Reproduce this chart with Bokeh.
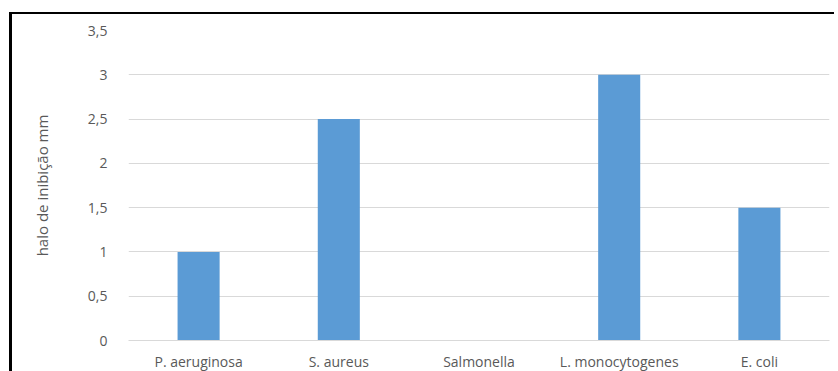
from bokeh.plotting import figure
from bokeh.models import FactorRange, Range1d, FixedTicker, CustomJSTickFormatter, ColumnDataSource
from bokeh.embed import file_html
from bokeh.resources import INLINE

categories = ["P. aeruginosa", "S. aureus", "Salmonella", "L. monocytogenes", "E. coli"]
values = [1, 2.5, 0, 3, 1.5]
y_ticks = [0, 0.5, 1, 1.5, 2, 2.5, 3, 3.5]

src = ColumnDataSource(dict(cat=categories, val=values))

p = figure(width=822, height=357, x_range=FactorRange(*categories, range_padding=0),
           y_range=Range1d(0, 3.5), output_backend="svg", toolbar_location=None,
           min_border_left=116, min_border_right=8, min_border_top=16, min_border_bottom=29,
           styles={"margin-left": "9px", "margin-top": "12px", "box-sizing": "content-box",
                   "border-top": "2px solid black", "border-left": "3px solid black"})
p.outline_line_color = None
p.background_fill_color = "white"
p.border_fill_color = "white"

p.vbar(x="cat", top="val", width=0.3, source=src, color="#5b9bd5", line_color=None)

p.xgrid.grid_line_color = None
p.ygrid.grid_line_color = "#d9d9d9"
p.ygrid.grid_line_width = 1

p.yaxis.ticker = FixedTicker(ticks=y_ticks)
p.yaxis.formatter = CustomJSTickFormatter(code="return tick.toString().replace('.', ',');")
p.yaxis.axis_line_color = None
p.yaxis.major_tick_line_color = None
p.yaxis.minor_tick_line_color = None
p.yaxis.major_label_standoff = 15
p.yaxis.axis_label = "halo de inibição mm"
p.yaxis.axis_label_standoff = 33
p.yaxis.axis_label_text_font = "Open Sans"
p.yaxis.axis_label_text_font_style = "normal"
p.yaxis.axis_label_text_font_size = "15px"
p.yaxis.axis_label_text_color = "#595959"

p.xaxis.axis_line_color = "#d9d9d9"
p.xaxis.major_tick_line_color = None
p.xaxis.minor_tick_line_color = None
p.xaxis.major_tick_out = 0
p.xaxis.major_label_standoff = 11

for ax in (p.xaxis, p.yaxis):
    ax.major_label_text_font = "Open Sans"
    ax.major_label_text_font_size = "14px"
    ax.major_label_text_color = "#595959"

open("out.html", "w").write(file_html(p, INLINE))
